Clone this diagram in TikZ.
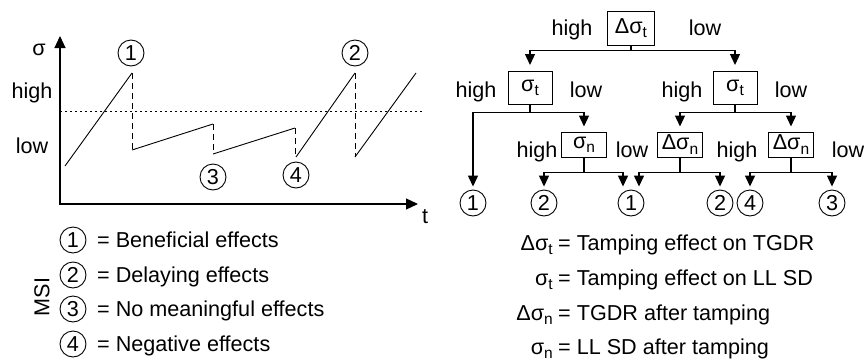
\documentclass[tikz,border=0pt]{standalone}
\usepackage{fontspec}
\setmainfont{Liberation Sans}
\usetikzlibrary{arrows.meta}
\newcommand\lsub[1]{\raisebox{-0.38ex}{\fontsize{15.5}{15.5}\selectfont #1}}
\begin{document}
\begin{tikzpicture}[x=1pt,y=-1pt,
 every node/.style={font=\fontsize{21.6}{25}\selectfont, inner sep=0pt},
 circ/.style={circle,draw,line width=0.9pt,minimum size=26pt},
 box/.style={draw,line width=1pt,minimum width=44pt,minimum height=33pt},
 sbox/.style={draw,line width=1pt,minimum width=45pt,minimum height=25pt},
 arr/.style={line width=1.3pt,-{Triangle[width=10pt,length=11pt]}},
 axarr/.style={line width=1.2pt,{Triangle[width=11pt,length=12pt]}-{Triangle[width=11pt,length=12pt]}},
 lbl/.style={anchor=base},
 curve/.style={line width=0.9pt},
 drop/.style={line width=0.9pt,dash pattern=on 6pt off 4pt},
]
\useasboundingbox (0,0) rectangle (865,362);

% ---------- left plot ----------
\coordinate (ytip) at (60,36);
\coordinate (O) at (60,204);
\coordinate (xtip) at (418,204);
\draw[axarr] (ytip) -- (O) -- (xtip);
\node[lbl] (sig) at (39,55) {σ};
\node[lbl] (hi) at (32,98) {high};
\node[lbl] (lo) at (32,153) {low};
\node[lbl] (tl) at (425,223) {t};
\draw[line width=0.9pt,dash pattern=on 2pt off 3pt] (60,111) -- (422,111);

\draw[curve] (65,166) -- (132,73);
\draw[drop] (132,73) -- (132,150);
\draw[curve] (132,150) -- (213,124);
\draw[drop] (213,124) -- (213,154);
\draw[curve] (213,154) -- (295,128);
\draw[drop] (295,128) -- (295,157);
\draw[curve] (296,157) -- (355,73);
\draw[drop] (355,73) -- (355,157);
\draw[curve] (355,157) -- (416,73);

\node[circ] (p1) at (131,53) {1};
\node[circ] (p2) at (355,53) {2};
\node[circ] (p3) at (213,177) {3};
\node[circ] (p4) at (296,175) {4};

% ---------- left legend ----------
\node[circ] (l1) at (73,240) {1};
\node[circ] (l2) at (73,275) {2};
\node[circ] (l3) at (73,309) {3};
\node[circ] (l4) at (73,344) {4};
\node[anchor=base west] (t1) at (97,247.5) {= Beneficial effects};
\node[anchor=base west] (t2) at (97,282.5) {= Delaying effects};
\node[anchor=base west] (t3) at (97,316.5) {= No meaningful effects};
\node[anchor=base west] (t4) at (97,351.5) {= Negative effects};
\node[rotate=90] (msi) at (42,297) {MSI};

% ---------- tree ----------
\node[box,minimum width=47pt,minimum height=34pt] (T) at (631,28) {Δσ\lsub{t}};
\node[box] (A) at (530,88) {σ\lsub{t}};
\node[box] (B) at (735,88) {σ\lsub{t}};
\node[sbox] (C) at (584,144.5) {σ\lsub{n}};
\node[sbox] (D) at (680,144.5) {Δσ\lsub{n}};
\node[sbox] (E) at (791,144.5) {Δσ\lsub{n}};

\node[circ] (c1a) at (473,203) {1};
\node[circ] (c2a) at (544,203) {2};
\node[circ] (c1b) at (631,203) {1};
\node[circ] (c2b) at (720,203) {2};
\node[circ] (c4b) at (750,203) {4};
\node[circ] (c3b) at (832,203) {3};

\draw[arr,shorten >=6pt] (T.south) -- ++(0,5) -| (A.north);
\draw[arr,shorten >=6pt] (T.south) -- ++(0,5) -| (B.north);
\draw[arr,shorten >=3pt] (A.south) -- ++(0,7.5) -| (c1a.north);
\draw[arr,shorten >=5pt] (A.south) -- ++(0,7.5) -| (C.north);
\draw[arr,shorten >=5pt] (B.south) -- ++(0,7.5) -| (D.north);
\draw[arr,shorten >=5pt] (B.south) -- ++(0,7.5) -| (E.north);
\draw[arr,shorten >=3pt] (C.south) -- ++(0,15) -| (c2a.north);
\draw[arr,shorten >=3pt] (C.south) -- ++(0,15) -| ([xshift=-8pt]c1b.north);
\draw[arr,shorten >=3pt] (D.south) -- ++(0,15) -| ([xshift=8pt]c1b.north);
\draw[arr,shorten >=3pt] (D.south) -- ++(0,15) -| (c2b.north);
\draw[arr,shorten >=3pt] (E.south) -- ++(0,15) -| (c4b.north);
\draw[arr,shorten >=3pt] (E.south) -- ++(0,15) -| (c3b.north);

\node[lbl] (h0) at (572,35) {high};
\node[lbl] (w0) at (705,35) {low};
\node[lbl] (h1) at (476,97) {high};
\node[lbl] (w1) at (586,97) {low};
\node[lbl] (h2) at (682,97) {high};
\node[lbl] (w2) at (791,97) {low};
\node[lbl] (h3) at (537,157) {high};
\node[lbl] (w3) at (632,157) {low};
\node[lbl] (h4) at (737,157) {high};
\node[lbl] (w4) at (848,157) {low};

% ---------- right legend ----------
\node[anchor=base east] (e1) at (553,250) {Δσ\lsub{t}};
\node[anchor=base west] (f1) at (558,250) {= Tamping effect on TGDR};
\node[anchor=base east] (e2) at (553,285) {σ\lsub{t}};
\node[anchor=base west] (f2) at (558,285) {= Tamping effect on LL SD};
\node[anchor=base east] (e3) at (553,320) {Δσ\lsub{n}};
\node[anchor=base west] (f3) at (558,320) {= TGDR after tamping};
\node[anchor=base east] (e4) at (553,354) {σ\lsub{n}};
\node[anchor=base west] (f4) at (558,354) {= LL SD after tamping};
\end{tikzpicture}
\end{document}
